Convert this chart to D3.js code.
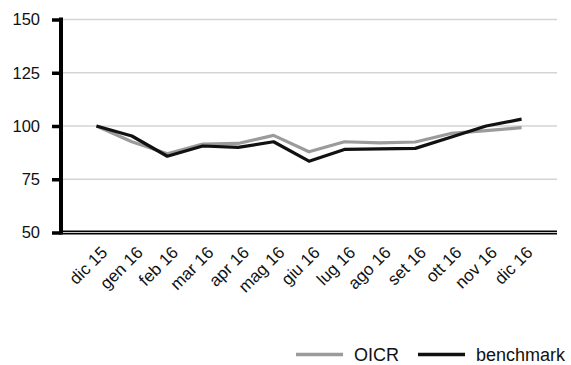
<!DOCTYPE html>
<html><head><meta charset="utf-8">
<script src="https://cdn.jsdelivr.net/npm/d3@7"></script>
<style>body{margin:0;background:#fff}svg{display:block}text{font-family:"Liberation Sans",Arial,sans-serif;fill:#111}</style>
</head><body><svg id="c" width="571" height="365"></svg>
<script>
const categories = ["dic 15","gen 16","feb 16","mar 16","apr 16","mag 16","giu 16","lug 16","ago 16","set 16","ott 16","nov 16","dic 16"];
const oicr = [100, 92.6, 87, 91.5, 91.8, 95.6, 87.9, 92.6, 92.1, 92.5, 96.5, 97.8, 99.2];
const benchmark = [100, 95.3, 85.8, 90.6, 90, 92.6, 83.5, 89, 89.3, 89.5, 94.7, 100, 103.2];
const yTicks = [50, 75, 100, 125, 150];
const seriesNames = ["OICR", "benchmark"];

const svg = d3.select("#c");
const L = 61, R = 557, T = 19.5, B = 232.5;
const x = d3.scalePoint().domain(categories).range([L, R]).padding(1);
const y = d3.scaleLinear().domain([50, 150]).range([B, T]);

// gridlines
svg.append("g").selectAll("line").data(yTicks).join("line")
  .attr("x1", L).attr("x2", R).attr("y1", d => y(d)).attr("y2", d => y(d))
  .attr("stroke", "#d4d4d4").attr("stroke-width", 1.5);

// y axis
const ya = svg.append("g").attr("transform", `translate(${L},0)`)
  .call(d3.axisLeft(y).tickValues(yTicks).tickSize(9).tickPadding(12));
ya.select(".domain").remove();
ya.selectAll(".tick line").attr("stroke", "#000").attr("stroke-width", 3.5);
ya.selectAll(".tick text").attr("font-size", 16.5).attr("fill", "#111")
  .attr("font-family", "Liberation Sans, Arial, sans-serif");
svg.append("line").attr("x1", L).attr("x2", L).attr("y1", T - 2).attr("y2", B + 2)
  .attr("stroke", "#000").attr("stroke-width", 4);

// x axis (double line)
svg.append("line").attr("x1", L).attr("x2", R).attr("y1", B).attr("y2", B)
  .attr("stroke", "#000").attr("stroke-width", 4);
svg.append("line").attr("x1", L + 2).attr("x2", R).attr("y1", B).attr("y2", B)
  .attr("stroke", "#fff").attr("stroke-width", 0.8);

// x labels
svg.append("g").selectAll("text").data(categories).join("text")
  .attr("transform", d => `translate(${x(d) + 12},${B + 21}) rotate(-45)`)
  .attr("text-anchor", "end").attr("font-size", 17).text(d => d);

// lines
const line = d3.line().x((d, i) => x(categories[i])).y(d => y(d));
svg.append("path").datum(oicr).attr("d", line).attr("fill", "none")
  .attr("stroke", "#9b9b9b").attr("stroke-width", 3.2).attr("stroke-linejoin", "round");
svg.append("path").datum(benchmark).attr("d", line).attr("fill", "none")
  .attr("stroke", "#111").attr("stroke-width", 3.2).attr("stroke-linejoin", "round");

// legend
const lg = [{name: seriesNames[0], c: "#9b9b9b", x: 296}, {name: seriesNames[1], c: "#111", x: 418}];
const lgG = svg.append("g");
lg.forEach(d => {
  lgG.append("line").attr("x1", d.x).attr("x2", d.x + 47).attr("y1", 354.5).attr("y2", 354.5)
    .attr("stroke", d.c).attr("stroke-width", 3.5);
  lgG.append("text").attr("x", d.x + 58).attr("y", 361).attr("font-size", 18).text(d.name);
});
</script></body></html>
